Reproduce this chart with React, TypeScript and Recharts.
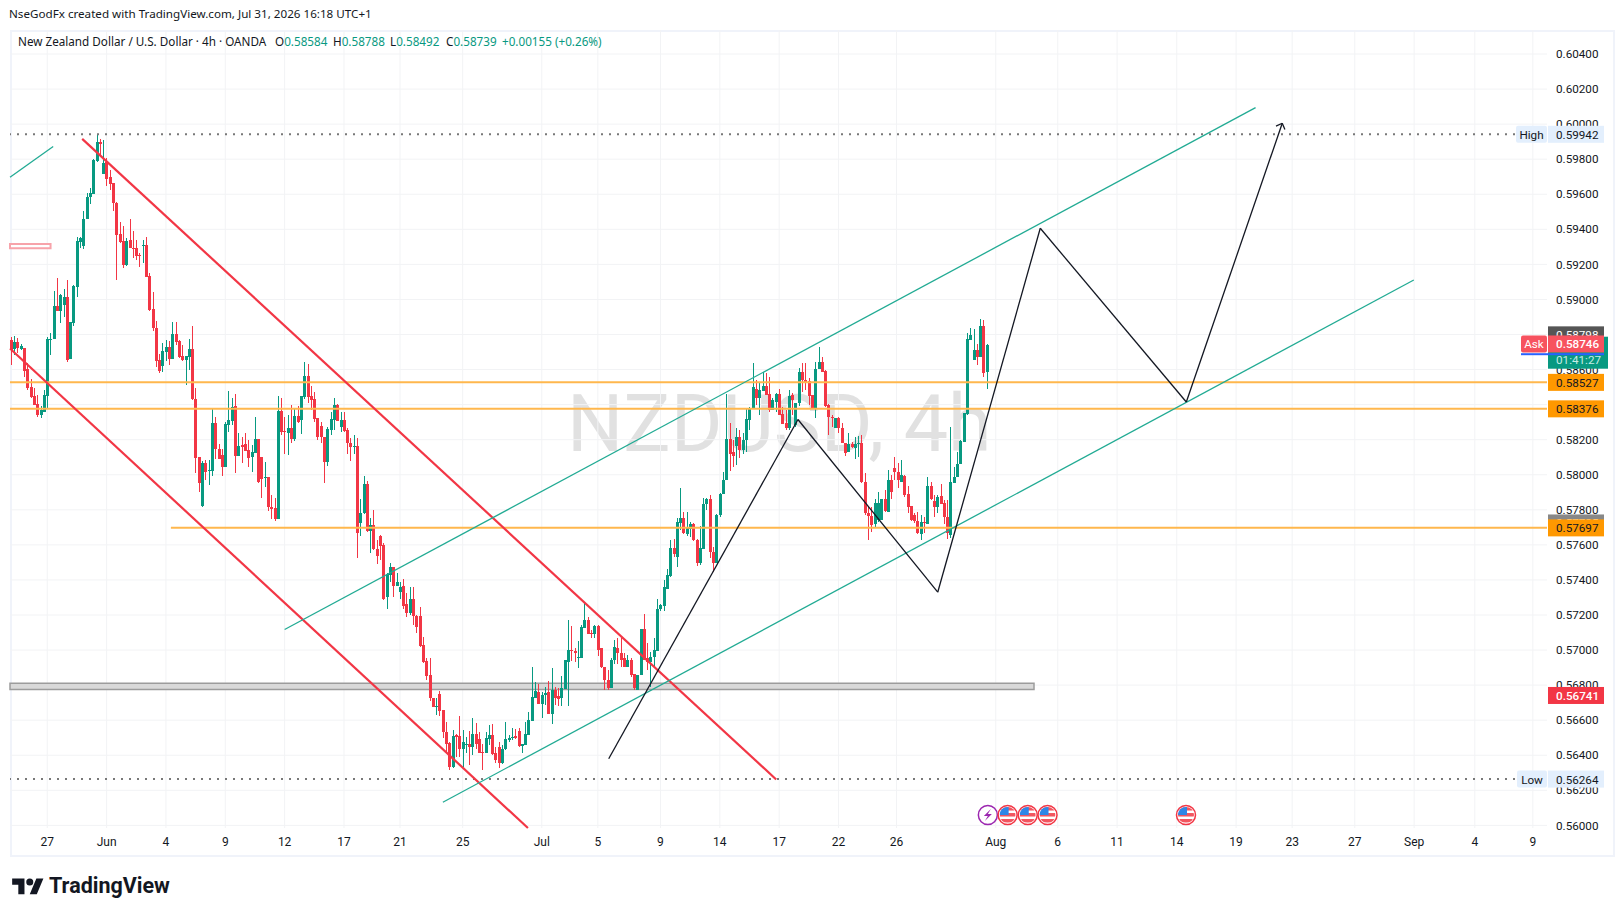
import { ComposedChart, Bar, XAxis, YAxis, CartesianGrid, ReferenceLine, ReferenceArea, ReferenceDot } from "recharts";

// NZD/USD 4h candles, in points (1/100000)
const opens = [
  58769,58717,58755,58717,58721,58601,58498,58449,58403,58341,
  58360,58451,58770,58774,58963,58936,58968,59012,58662,58867,
  59073,59330,59307,59461,59586,59604,59790,59898,59718,59782,
  59697,59662,59548,59371,59333,59197,59339,59294,59292,59252,
  59307,59311,59134,58944,58835,58653,58620,58700,58729,58662,
  58803,58763,58677,58654,58673,58717,58430,58099,57821,58065,
  58023,58023,58295,58145,58112,58046,58284,58308,58392,58109,
  58168,58175,58141,58101,58122,58204,58101,57983,57987,57818,
  57810,57745,58363,58249,58239,58264,58203,58334,58312,58445,
  58563,58449,58430,58321,58277,58217,58074,58258,58312,58397,
  58274,58312,58255,58179,58160,58163,57726,57779,57950,57680,
  57713,57574,57650,57599,57300,57429,57471,57365,57332,57365,
  57262,57213,57294,57195,57194,57028,56937,56857,56724,56676,
  56749,56657,56534,56471,56334,56513,56509,56435,56460,56467,
  56448,56519,56490,56416,56410,56492,56513,56410,56448,56353,
  56433,56486,56501,56507,56537,56454,56461,56515,56596,56728,
  56760,56690,56741,56760,56638,56775,56737,56724,56777,56933,
  57003,56996,56954,56952,57127,57171,57098,57091,57138,57009,
  56901,56828,56781,56943,57009,56986,56952,56901,56943,56861,
  56775,56857,57123,56952,56933,56958,56996,57233,57251,57351,
  57422,57580,57532,57726,57751,57661,57692,57718,57627,57498,
  57578,57836,57859,57561,57498,57768,57893,57969,58203,58131,
  58163,58213,58140,58198,58312,58374,58492,58437,58479,58506,
  58458,58369,58416,58461,58345,58293,58265,58455,58284,58411,
  58586,58541,58535,58453,58373,58601,58643,58592,58398,58331,
  58265,58324,58265,58179,58132,58176,58151,58174,58179,57959,
  57780,57765,57719,57742,57742,57860,57790,57970,58037,58018,
  57961,57995,57888,57822,57771,57738,57662,57732,57719,57936,
  57850,57818,57879,57837,57761,57656,57951,57989,58061,58189,
  58347,58770,58654,58711,58673,58850,58584,
];
const highs = [
  58784,58791,58778,58746,58721,58635,58544,58493,58455,58392,
  58483,58784,58807,59048,59124,59031,59058,59111,58871,59082,
  59354,59354,59505,59605,59634,59801,59942,59914,59910,59805,
  59739,59662,59556,59444,59419,59349,59459,59391,59339,59267,
  59339,59354,59149,59044,58877,58689,58750,58769,58765,58869,
  58871,58770,58740,58677,58774,58848,58493,58103,58078,58084,
  58084,58375,58327,58173,58145,58303,58478,58436,58460,58240,
  58213,58236,58198,58169,58331,58204,58101,58071,57987,57884,
  57865,58449,58435,58331,58340,58397,58378,58392,58450,58641,
  58631,58506,58473,58321,58302,58217,58270,58359,58435,58403,
  58359,58359,58264,58207,58226,58207,57859,57992,57966,57751,
  57798,57627,57656,57608,57437,57494,57471,57437,57389,57408,
  57323,57357,57357,57199,57243,57076,56952,56952,56728,56724,
  56768,56657,56591,56477,56543,56524,56623,56543,56505,56539,
  56615,56585,56534,56467,56534,56572,56581,56448,56477,56458,
  56587,56515,56553,56547,56553,56467,56591,56648,56901,56819,
  56809,56762,56790,56823,56895,56790,56781,56851,56946,57169,
  57137,57009,57051,57142,57271,57186,57114,57142,57142,57013,
  56904,56885,56952,57057,57066,57066,56981,56971,56952,56861,
  56857,57123,57205,57041,56990,57066,57289,57262,57399,57462,
  57627,57631,57751,57927,57789,57789,57732,57722,57631,57707,
  57865,57865,57884,57589,57775,57897,58017,58460,58293,58198,
  58264,58258,58236,58378,58384,58639,58540,58530,58587,58578,
  58559,58435,58464,58487,58388,58369,58484,58465,58408,58607,
  58636,58636,58550,58455,58645,58731,58674,58595,58404,58341,
  58324,58328,58297,58179,58236,58189,58217,58221,58227,58012,
  57818,57818,57860,57904,57860,57913,58027,57999,58099,58065,
  58084,57999,57936,57822,57780,57790,57771,57761,57989,57961,
  57885,57885,57947,57856,57856,58274,58046,58132,58199,58350,
  58807,58839,58831,58744,58888,58884,58745,
];
const lows = [
  58626,58683,58692,58711,58559,58483,58436,58398,58331,58325,
  58360,58375,58683,58772,58936,58867,58902,58643,58662,58848,
  59016,59292,59288,59461,59545,59604,59782,59811,59718,59647,
  59624,59505,59111,59324,59181,59191,59292,59238,59225,59187,
  59206,59126,58936,58822,58613,58582,58588,58651,58626,58662,
  58740,58664,58651,58512,58597,58426,58012,57903,57818,57970,
  57941,57993,58088,58088,57993,58046,58246,58284,58012,58109,
  58065,58137,58046,58017,58122,57955,57865,57932,57795,57745,
  57738,57745,58226,58121,58112,58182,58194,58293,58232,58430,
  58411,58369,58302,58198,58179,57954,58049,58226,58255,58308,
  58245,58245,58121,58080,58121,57523,57650,57775,57675,57555,
  57570,57490,57513,57285,57235,57389,57304,57365,57294,57237,
  57190,57199,57142,57098,57019,56924,56828,56709,56673,56629,
  56623,56496,56410,56315,56330,56391,56391,56334,56410,56344,
  56401,56433,56410,56315,56410,56458,56401,56357,56325,56349,
  56429,56477,56486,56490,56448,56410,56458,56515,56596,56728,
  56690,56614,56686,56635,56577,56686,56680,56680,56777,56682,
  56939,56933,56895,56952,57127,57091,57066,57066,56965,56895,
  56775,56771,56781,56923,56923,56904,56901,56901,56847,56771,
  56771,56857,56943,56885,56790,56904,56996,57224,57224,57351,
  57418,57532,57475,57684,57661,57650,57646,57623,57481,57484,
  57578,57798,57528,57446,57494,57760,57889,57969,58023,58045,
  58055,58093,58118,58131,58258,58374,58397,58340,58477,58454,
  58359,58369,58359,58341,58290,58255,58255,58341,58274,58392,
  58474,58484,58398,58379,58322,58601,58588,58388,58227,58274,
  58265,58236,58179,58107,58132,58151,58088,58103,57955,57771,
  57628,57675,57694,57732,57742,57790,57790,57860,57970,57923,
  57961,57875,57780,57738,57723,57662,57628,57666,57719,57856,
  57761,57780,57833,57719,57632,57637,57951,57989,58061,58189,
  58341,58770,58654,58626,58673,58559,58492,
];
const closes = [
  58711,58755,58721,58734,58594,58493,58445,58398,58341,58369,
  58455,58774,58776,58963,58936,59025,59012,58654,58871,59077,
  59333,59349,59459,59583,59605,59796,59898,59887,59777,59689,
  59661,59548,59370,59330,59197,59333,59292,59290,59250,59248,
  59311,59130,58940,58839,58651,58592,58704,58729,58658,58803,
  58757,58672,58654,58677,58717,58430,58097,57951,58065,58017,
  58027,58295,58145,58091,58046,58289,58312,58384,58109,58164,
  58160,58137,58097,58130,58204,57958,57975,57987,57818,57806,
  57745,58363,58245,58243,58264,58203,58334,58302,58449,58563,
  58445,58426,58319,58215,58215,58074,58260,58317,58397,58308,
  58312,58251,58179,58160,58163,57669,57779,57950,57677,57713,
  57574,57536,57593,57292,57433,57471,57365,57386,57357,57252,
  57213,57294,57195,57133,57024,56933,56851,56724,56676,56680,
  56653,56534,56463,56334,56509,56505,56435,56475,56465,56448,
  56519,56463,56410,56410,56496,56513,56406,56372,56353,56433,
  56490,56501,56505,56501,56454,56467,56519,56600,56730,56766,
  56690,56743,56756,56638,56771,56728,56722,56781,56943,57003,
  56996,56981,56958,57133,57171,57091,57091,57138,57000,56901,
  56828,56781,56946,57015,56986,56943,56904,56943,56857,56781,
  56857,57123,56946,56933,56962,57000,57237,57256,57361,57427,
  57580,57547,57732,57751,57665,57694,57718,57627,57498,57580,
  57836,57859,57561,57498,57773,57893,57969,58203,58118,58106,
  58213,58140,58201,58317,58378,58498,58439,58483,58506,58454,
  58372,58426,58460,58341,58290,58265,58449,58427,58408,58586,
  58541,58531,58449,58383,58601,58643,58588,58392,58331,58322,
  58324,58265,58179,58126,58176,58160,58176,58179,57961,57780,
  57765,57713,57837,57841,57860,57795,57970,57904,58018,57970,
  57999,57885,57818,57742,57738,57666,57732,57727,57936,57860,
  57818,57875,57833,57757,57666,57961,57989,58061,58193,58350,
  58774,58797,58711,58671,58850,58580,58739,
];

const priceTicks = [0.56,0.562,0.564,0.566,0.568,0.57,0.572,0.574,0.576,0.578,0.58,0.582,0.584,0.586,0.588,0.59,0.592,0.594,0.596,0.598,0.6,0.602,0.604];
const timeTicks = [11,29,47,65,83,101,118,137,161,178,197,215,233,251,268.6,298.7,317.5,335.5,353.6,371.6,388.6,407.6,425.6,444,461.6];
const timeLabels = ["27","Jun","4","9","12","17","21","25","Jul","5","9","14","17","22","26","Aug","6","11","14","19","23","27","Sep","4","9"];

// drawings, [bar index, price]
const redUpper = [[21.6,0.59916],[232.1,0.56262]];
const redLower = [[-0.3,0.5872],[156.8,0.55985]];
const tealOld = [[-0.3,0.59697],[12.8,0.59872]];
const tealUpper = [[83,0.57117],[377.5,0.60094]];
const tealLower = [[131,0.56132],[425.5,0.59111]];
const projection = [[181.3,0.5638],[238.7,0.58315],[281.1,0.5733],[312.2,0.59406],[356.5,0.58415],[385.6,0.60005]];
const arrowBarbs = [[383.7,0.59989],[386.4,0.5997]];
const eventBars = [296.3,302.3,308.4,314.4,356.4];
const eventPrice = 0.56059;

const candles = opens.map((o, i) => ({
  i,
  open: o / 100000,
  close: closes[i] / 100000,
  range: [lows[i] / 100000, highs[i] / 100000],
}));

const UP = "#089981";
const DOWN = "#f23645";
const TEAL = "#22ab94";
const ORANGE = "#ffb74d";
const INK = "#131722";
const X_MIN = -0.3;
const X_MAX = 465.9;
const Y_DOMAIN = [0.55985, 0.60537];
const UI_FONT = "'Noto Sans', sans-serif";
const TAG_FONT = "Roboto, sans-serif";

function Candle(props: any) {
  const { x, y, width, height, payload } = props;
  if (!payload) return null;
  const [low, high] = payload.range;
  const perUnit = Math.abs(height) / (high - low || 1);
  const top = Math.min(y, y + height);
  const cx = Math.round(x + width / 2);
  const up = payload.close >= payload.open;
  const color = up ? UP : DOWN;
  const bodyTop = top + (high - Math.max(payload.open, payload.close)) * perUnit;
  const bodyH = Math.max(1, Math.abs(payload.open - payload.close) * perUnit);
  return (
    <g shapeRendering="crispEdges">
      <rect x={cx} y={top} width={1} height={Math.abs(height)} fill={color} />
      <rect x={cx - 1} y={bodyTop} width={3} height={bodyH} fill={color} />
    </g>
  );
}

function tag(value: number, text: string, bg: string, fg: string, side?: string, sideBg?: string, sideW = 26, bold?: boolean) {
  return (
    <ReferenceDot
      key={text + bg}
      x={X_MAX}
      y={value}
      ifOverflow="visible"
      shape={(p: any) => (
        <g fontFamily={TAG_FONT} fontSize={11.7}>
          {side && <rect x={p.cx - sideW} y={p.cy - 8.5} width={sideW} height={17} rx={2} fill={sideBg} />}
          {side && <text x={p.cx - sideW / 2} y={p.cy + 4.5} textAnchor="middle" fill={fg}>{side}</text>}
          <rect x={p.cx + 1} y={p.cy - 8.5} width={56} height={17} fill={bg} />
          <text x={p.cx + 9} y={p.cy + 4.5} fill={fg} fontWeight={bold ? 500 : 400}>{text}</text>
        </g>
      )}
    />
  );
}

function segments(points: number[][], stroke: string, width: number, prefix: string) {
  return points.slice(1).map((pt, k) => (
    <ReferenceLine
      key={prefix + k}
      segment={[{ x: points[k][0], y: points[k][1] }, { x: pt[0], y: pt[1] }]}
      stroke={stroke}
      strokeWidth={width}
      ifOverflow="visible"
    />
  ));
}

function FlagIcon(props: any) {
  const { cx, cy, id } = props;
  return (
    <g>
      <clipPath id={id}><circle cx={cx} cy={cy} r={8} /></clipPath>
      <circle cx={cx} cy={cy} r={9.5} fill="#fff" stroke={DOWN} strokeWidth={1.5} />
      <g clipPath={`url(#${id})`}>
        <rect x={cx - 8} y={cy - 2} width={16} height={3.5} fill="#f2555f" />
        <rect x={cx - 8} y={cy + 4} width={16} height={3.5} fill="#f2555f" />
        <rect x={cx - 8} y={cy - 8} width={16} height={3.5} fill="#f2555f" />
        <rect x={cx - 8} y={cy - 8} width={9} height={8} fill="#2e86e6" />
      </g>
    </g>
  );
}

function BoltIcon(props: any) {
  const { cx, cy } = props;
  return (
    <g>
      <circle cx={cx} cy={cy} r={9.5} fill="#fff" stroke="#9c27b0" strokeWidth={1.5} />
      <path d={`M${cx + 3} ${cy - 6} L${cx - 4} ${cy + 1} L${cx} ${cy + 1} L${cx - 3} ${cy + 6} L${cx + 4} ${cy - 1} L${cx} ${cy - 1} Z`} fill="#9c27b0" />
    </g>
  );
}

export default function App() {
  const legendRow = { position: "absolute", top: 33, fontFamily: UI_FONT, fontSize: 11.7, color: INK, whiteSpace: "nowrap" } as const;
  return (
    <div style={{ position: "absolute", left: 0, top: 0, width: 1623, height: 916, background: "#fff", overflow: "hidden" }}>
      <div style={{ position: "absolute", left: 10, top: 30, width: 1601, height: 823, border: "2px solid #f0f3fa", boxSizing: "content-box" }} />
      <div style={{ position: "absolute", left: 567, top: 378, fontFamily: "Roboto, sans-serif", fontSize: 79, lineHeight: "92px", color: "#e1e1e1", whiteSpace: "nowrap" }}>
        NZDUSD, 4h
      </div>
      <div style={{ position: "absolute", left: 0, top: 0 }}>
        <ComposedChart width={1623} height={916} data={candles} margin={{ top: 30, right: 10, bottom: 61, left: 10 }}>
          <CartesianGrid stroke="#f2f3f5" horizontalValues={priceTicks} verticalValues={timeTicks} />
          <XAxis
            dataKey="i"
            type="number"
            domain={[X_MIN, X_MAX]}
            ticks={timeTicks}
            interval={0}
            allowDataOverflow
            height={27}
            axisLine={false}
            tickLine={false}
            tickSize={0}
            tickMargin={9}
            tick={{ fontSize: 12, fill: INK, fontFamily: TAG_FONT }}
            tickFormatter={(v: number) => timeLabels[timeTicks.indexOf(v)]}
          />
          <YAxis
            orientation="right"
            type="number"
            domain={Y_DOMAIN}
            ticks={priceTicks}
            interval={0}
            allowDataOverflow
            width={66}
            axisLine={false}
            tickLine={false}
            tickSize={0}
            tickMargin={9}
            tick={{ fontSize: 11.7, fill: INK, fontFamily: TAG_FONT }}
            tickFormatter={(v: number) => v.toFixed(5)}
          />
          <ReferenceArea x1={X_MIN} x2={310.3} y1={0.56775} y2={0.5681} ifOverflow="visible" fill="#d9d9d9" fillOpacity={1} stroke="#9c9c9c" strokeWidth={1.5} />
          <ReferenceArea x1={X_MIN} x2={12} y1={0.59292} y2={0.59316} ifOverflow="visible" fill="#ffffff" fillOpacity={1} stroke="#f7a3aa" strokeWidth={2} />
          <Bar dataKey="range" barSize={3} isAnimationActive={false} shape={Candle} />

          <ReferenceLine y={0.59942} stroke="#787878" strokeWidth={2} strokeDasharray="2 6" ifOverflow="visible" />
          <ReferenceLine y={0.56264} stroke="#787878" strokeWidth={2} strokeDasharray="2 6" ifOverflow="visible" />
          <ReferenceLine y={0.58527} stroke={ORANGE} strokeWidth={2} ifOverflow="visible" />
          <ReferenceLine y={0.58376} stroke={ORANGE} strokeWidth={2} ifOverflow="visible" />
          <ReferenceLine segment={[{ x: 48.5, y: 0.57697 }, { x: X_MAX, y: 0.57697 }]} stroke={ORANGE} strokeWidth={2} ifOverflow="visible" />

          {segments(redUpper, DOWN, 2.2, "ru")}
          {segments(redLower, DOWN, 2.2, "rl")}
          {segments(tealOld, TEAL, 1.3, "to")}
          {segments(tealUpper, TEAL, 1.3, "tu")}
          {segments(tealLower, TEAL, 1.3, "tl")}
          {segments(projection, INK, 1.3, "pj")}
          {segments([arrowBarbs[0], projection[5]], INK, 1.3, "ba")}
          {segments([arrowBarbs[1], projection[5]], INK, 1.3, "bb")}

          {eventBars.map((b, k) => (
            <ReferenceDot
              key={"ev" + k}
              x={b}
              y={eventPrice}
              ifOverflow="visible"
              shape={(p: any) => (k === 0 ? <BoltIcon cx={p.cx} cy={p.cy} /> : <FlagIcon cx={p.cx} cy={p.cy} id={"flag" + k} />)}
            />
          ))}
        </ComposedChart>
      </div>

      {/* price tags sit over the axis labels, so they get their own chart layer */}
      <div style={{ position: "absolute", left: 0, top: 0 }}>
        <ComposedChart width={1623} height={916} data={candles} margin={{ top: 30, right: 76, bottom: 88, left: 10 }}>
          <XAxis dataKey="i" type="number" domain={[X_MIN, X_MAX]} allowDataOverflow hide />
          <YAxis type="number" domain={Y_DOMAIN} allowDataOverflow hide />
          {tag(0.58798, "0.58798", "#555555", "#ffffff")}
          <ReferenceDot
            x={X_MAX}
            y={0.58739}
            ifOverflow="visible"
            shape={(p: any) => (
              <g fontFamily={TAG_FONT} fontSize={11.7}>
                <rect x={p.cx + 1} y={p.cy - 8.5} width={60} height={32} fill={UP} />
                <text x={p.cx + 9} y={p.cy + 19} fill="#c6ece5">01:41:27</text>
                <rect x={p.cx - 26} y={p.cy + 8} width={83} height={2} fill="#2962ff" />
              </g>
            )}
          />
          {tag(0.58746, "0.58746", "#f7525f", "#ffffff", "Ask", "#f7525f", 26, true)}
          {tag(0.58527, "0.58527", "#ff9800", INK)}
          {tag(0.58376, "0.58376", "#ff9800", INK)}
          {tag(0.57725, "0.57725", "#888888", "#ffffff")}
          {tag(0.57697, "0.57697", "#ff9800", INK)}
          {tag(0.56741, "0.56741", DOWN, "#ffffff", undefined, undefined, 0, true)}
          {tag(0.59942, "0.59942", "#e3effd", INK, "High", "#e3effd", 31)}
          {tag(0.56264, "0.56264", "#e3effd", INK, "Low", "#e3effd", 30)}
        </ComposedChart>
      </div>

      <div style={{ position: "absolute", left: 9, top: 6, fontFamily: UI_FONT, fontSize: 11.65, color: INK, whiteSpace: "nowrap" }}>
        NseGodFx created with TradingView.com, Jul 31, 2026 16:18 UTC+1
      </div>
      <div style={{ ...legendRow, left: 18 }}>New Zealand Dollar / U.S. Dollar · 4h · OANDA</div>
      <div style={{ ...legendRow, left: 275 }}>O<span style={{ color: UP }}>0.58584</span></div>
      <div style={{ ...legendRow, left: 333 }}>H<span style={{ color: UP }}>0.58788</span></div>
      <div style={{ ...legendRow, left: 390 }}>L<span style={{ color: UP }}>0.58492</span></div>
      <div style={{ ...legendRow, left: 446 }}>C<span style={{ color: UP }}>0.58739</span></div>
      <div style={{ ...legendRow, left: 502, color: UP }}>+0.00155 (+0.26%)</div>

      <svg style={{ position: "absolute", left: 12, top: 875 }} width={32} height={22} viewBox="0 0 36 25">
        <path d="M14 22H7V11H0V4h14v18zM28 22h-8l7.5-18h8L28 22z" fill={INK} />
        <circle cx={20} cy={8} r={4} fill={INK} />
      </svg>
      <div style={{ position: "absolute", left: 49, top: 873, fontFamily: "Roboto, sans-serif", fontWeight: 700, fontSize: 21.5, color: INK, whiteSpace: "nowrap" }}>
        TradingView
      </div>
    </div>
  );
}
